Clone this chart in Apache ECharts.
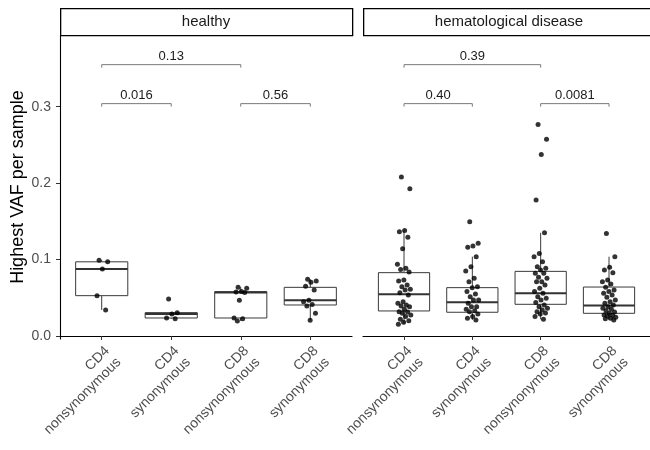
<!DOCTYPE html>
<html>
<head>
<meta charset="utf-8">
<script src="https://cdn.jsdelivr.net/npm/echarts@6/dist/echarts.min.js"></script>
<style>
  html, body { margin: 0; padding: 0; background: #fff; }
  #chart { width: 650px; height: 450px; }
</style>
</head>
<body>
<div id="chart"></div>
<script>
// Facet titles and x categories
const panels = ['healthy', 'hematological disease'];
const categories = ['CD4\nnonsynonymous', 'CD4\nsynonymous', 'CD8\nnonsynonymous', 'CD8\nsynonymous'];
const yTicks = [0, 0.1, 0.2, 0.3];

// Highest VAF per sample, healthy donors
const healthyCd4Non = [0.099, 0.097, 0.0876, 0.0527, 0.034];
const healthyCd4Syn = [0.0484, 0.0305, 0.0288, 0.0235, 0.0226];
const healthyCd8Non = [0.0636, 0.0623, 0.058, 0.0575, 0.057, 0.0466, 0.0235, 0.0226, 0.0196];
const healthyCd8Syn = [0.0741, 0.072, 0.0702, 0.065, 0.0601, 0.0466, 0.0449, 0.041, 0.0392, 0.0296, 0.0205];

// Highest VAF per sample, hematological disease
const diseaseCd4Non = [0.208, 0.1926, 0.138, 0.1364, 0.129, 0.114, 0.0937, 0.0885, 0.0871, 0.0837,
  0.0732, 0.0719, 0.0667, 0.0645, 0.061, 0.0601, 0.0566, 0.0536, 0.0449, 0.0427, 0.0405, 0.0392,
  0.0383, 0.0349, 0.0318, 0.0312, 0.0296, 0.0275, 0.0253, 0.0218, 0.0198, 0.0179, 0.0153];
const diseaseCd4Syn = [0.1494, 0.1212, 0.1176, 0.116, 0.1037, 0.0906, 0.085, 0.0754, 0.071, 0.0645,
  0.0632, 0.058, 0.0549, 0.0514, 0.0471, 0.0471, 0.0427, 0.0383, 0.0383, 0.0349, 0.0331, 0.0318,
  0.0288, 0.0253, 0.0231, 0.0209];
const diseaseCd8Non = [0.2767, 0.2575, 0.2375, 0.1778, 0.135, 0.108, 0.1037, 0.0971, 0.0906, 0.0885,
  0.0863, 0.082, 0.082, 0.0767, 0.0754, 0.071, 0.071, 0.0667, 0.0623, 0.058, 0.0558, 0.0514, 0.0493,
  0.0471, 0.0436, 0.0405, 0.0383, 0.0362, 0.034, 0.0318, 0.03, 0.0288, 0.0253, 0.0218];
const diseaseCd8Syn = [0.1342, 0.1037, 0.0898, 0.0863, 0.0828, 0.0732, 0.071, 0.068, 0.0636, 0.0601,
  0.058, 0.0558, 0.0536, 0.0506, 0.0471, 0.0449, 0.0427, 0.0405, 0.0383, 0.0362, 0.0349, 0.0331,
  0.0314, 0.0296, 0.0275, 0.027, 0.0261, 0.0244, 0.023, 0.0226, 0.0209];

// Box summaries: [lower whisker, Q1, median, Q3, upper whisker]
const healthyBoxes = [
  [0.034, 0.0527, 0.0876, 0.097, 0.099],
  [0.0226, 0.0235, 0.0288, 0.0305, 0.0305],
  [0.0196, 0.0235, 0.057, 0.058, 0.0636],
  [0.0205, 0.0405, 0.0466, 0.0636, 0.0741]
];
const diseaseBoxes = [
  [0.0153, 0.0327, 0.0545, 0.0828, 0.1386],
  [0.0209, 0.031, 0.044, 0.0632, 0.1037],
  [0.0218, 0.0414, 0.0558, 0.0845, 0.135],
  [0.0209, 0.0296, 0.0397, 0.064, 0.1037]
];

// Pairwise comparisons: [from category, to category, bracket height, p-value label]
const healthyTests = [[1, 2, 0.304, '0.016'], [3, 4, 0.304, '0.56'], [1, 3, 0.355, '0.13']];
const diseaseTests = [[1, 2, 0.304, '0.40'], [3, 4, 0.304, '0.0081'], [1, 3, 0.355, '0.39']];

const FONT = '"Liberation Sans", Arial, sans-serif';
const Y_MIN = -0.004, Y_MAX = 0.3938;
const PANEL_TOP = 35, PANEL_H = 304, PANEL_W = 292;
const panelLeft = [60, 363];

// even horizontal spread of points around each category centre
function spread(i) {
  const f = (i * 0.6180339887 + 0.31) % 1;
  return (f - 0.5) * 0.2;
}

function pointsFor(groups) {
  const out = [];
  groups.forEach((vals, g) => {
    vals.forEach((v, i) => out.push([g + 1 + spread(i), v]));
  });
  return out;
}

function boxRender(params, api) {
  const x = api.value(0);
  const half = 0.375;
  const lo = api.coord([x, api.value(1)]);
  const q1 = api.coord([x, api.value(2)]);
  const md = api.coord([x, api.value(3)]);
  const q3 = api.coord([x, api.value(4)]);
  const hi = api.coord([x, api.value(5)]);
  const l = api.coord([x - half, 0])[0];
  const r = api.coord([x + half, 0])[0];
  const stroke = { stroke: '#3a3a3a', lineWidth: 1, fill: null };
  return {
    type: 'group',
    children: [
      { type: 'line', shape: { x1: lo[0], y1: q1[1], x2: lo[0], y2: lo[1] }, style: stroke },
      { type: 'line', shape: { x1: hi[0], y1: q3[1], x2: hi[0], y2: hi[1] }, style: stroke },
      { type: 'rect', shape: { x: l, y: q3[1], width: r - l, height: q1[1] - q3[1] },
        style: { stroke: '#3a3a3a', lineWidth: 1, fill: '#ffffff' } },
      { type: 'line', shape: { x1: l, y1: md[1], x2: r, y2: md[1] },
        style: { stroke: '#333333', lineWidth: 2 } }
    ]
  };
}

function bracketSeries(tests, idx) {
  const labels = tests.map(t => t[3]);
  return {
    type: 'custom', xAxisIndex: idx, yAxisIndex: idx, z: 5,
    data: tests.map(t => [t[0], t[1], t[2]]),
    renderItem: (params, api) => {
      const a = api.coord([api.value(0), api.value(2)]);
      const b = api.coord([api.value(1), api.value(2)]);
      const tip = 3;
      return {
        type: 'group',
        children: [
          { type: 'polyline',
            shape: { points: [[a[0], a[1] + tip], [a[0], a[1]], [b[0], b[1]], [b[0], b[1] + tip]] },
            style: { stroke: '#7a7a7a', lineWidth: 1, fill: null } },
          { type: 'text',
            style: { text: labels[params.dataIndex], x: (a[0] + b[0]) / 2, y: a[1] - 2,
              align: 'center', verticalAlign: 'bottom', font: '13px ' + FONT, fill: '#1a1a1a' } }
        ]
      };
    }
  };
}

const xAxes = panelLeft.map((_, i) => ({
  type: 'value', gridIndex: i, min: 0.4, max: 4.6,
  splitLine: { show: false },
  axisLine: { lineStyle: { color: '#000', width: 1.1 } },
  axisTick: { customValues: [1, 2, 3, 4], length: 4, lineStyle: { color: '#333' } },
  axisLabel: {
    customValues: [1, 2, 3, 4], rotate: 45, margin: 4,
    formatter: v => categories[Math.round(v) - 1],
    color: '#4d4d4d', fontSize: 14, fontFamily: FONT, lineHeight: 16,
    align: 'right', verticalAlign: 'top'
  }
}));

const yAxes = panelLeft.map((_, i) => ({
  type: 'value', gridIndex: i, min: Y_MIN, max: Y_MAX,
  show: i === 0,
  name: i === 0 ? 'Highest VAF per sample' : '',
  nameLocation: 'middle', nameGap: 33,
  nameTextStyle: { fontSize: 18, fontFamily: FONT, color: '#000' },
  splitLine: { show: false },
  axisLine: { show: true, lineStyle: { color: '#000', width: 1.1 } },
  axisTick: { show: true, customValues: yTicks, length: 4, lineStyle: { color: '#333' } },
  axisLabel: { customValues: yTicks, formatter: v => v.toFixed(1), color: '#4d4d4d',
    fontSize: 14, fontFamily: FONT, margin: 9 }
}));

const strips = [];
panels.forEach((name, i) => {
  strips.push({
    type: 'rect', left: panelLeft[i], top: 8,
    shape: { width: PANEL_W, height: 27 },
    style: { fill: '#fff', stroke: '#000', lineWidth: 1.3 }
  });
  strips.push({
    type: 'text', x: panelLeft[i] + PANEL_W / 2, y: 22,
    style: { text: name, align: 'center', verticalAlign: 'middle', font: '15px ' + FONT, fill: '#1a1a1a' }
  });
});

const chart = echarts.init(document.getElementById('chart'), null, { renderer: 'canvas' });
chart.setOption({
  animation: false,
  backgroundColor: '#fff',
  grid: panelLeft.map(l => ({ left: l, top: PANEL_TOP, width: PANEL_W, height: PANEL_H })),
  xAxis: xAxes,
  yAxis: yAxes,
  graphic: strips,
  series: [
    { type: 'custom', xAxisIndex: 0, yAxisIndex: 0, renderItem: boxRender, z: 2,
      data: healthyBoxes.map((b, i) => [i + 1].concat(b)) },
    { type: 'custom', xAxisIndex: 1, yAxisIndex: 1, renderItem: boxRender, z: 2,
      data: diseaseBoxes.map((b, i) => [i + 1].concat(b)) },
    { type: 'scatter', xAxisIndex: 0, yAxisIndex: 0, symbolSize: 5, z: 3,
      itemStyle: { color: '#000' },
      data: pointsFor([healthyCd4Non, healthyCd4Syn, healthyCd8Non, healthyCd8Syn]) },
    { type: 'scatter', xAxisIndex: 1, yAxisIndex: 1, symbolSize: 5, z: 3,
      itemStyle: { color: '#000' },
      data: pointsFor([diseaseCd4Non, diseaseCd4Syn, diseaseCd8Non, diseaseCd8Syn]) },
    bracketSeries(healthyTests, 0),
    bracketSeries(diseaseTests, 1)
  ]
});
</script>
</body>
</html>
